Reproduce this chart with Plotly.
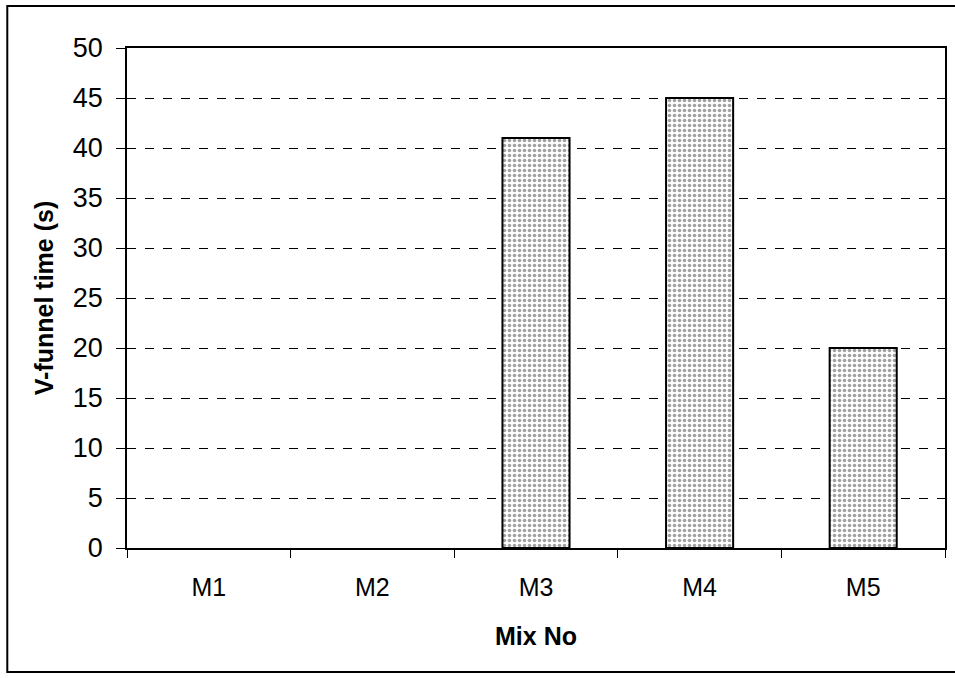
import plotly.graph_objects as go

mixes = ["M1", "M2", "M3", "M4", "M5"]
funnel_time = [None, None, 41, 45, 20]
y_ticks = [0, 5, 10, 15, 20, 25, 30, 35, 40, 45, 50]

W, H = 955, 678
ml, mr, mt, mb = 127, 8, 48, 130

fig = go.Figure()
fig.add_trace(go.Bar(
    x=mixes,
    y=funnel_time,
    marker=dict(
        color="white",
        line=dict(color="black", width=2),
        pattern=dict(shape=".", size=5, solidity=0.4,
                     fgcolor="#444444", bgcolor="white"),
    ),
    width=0.41,
))

ytick_font = dict(family="Liberation Sans, Arial, sans-serif", size=27, color="black")
xtick_font = dict(family="Liberation Sans, Arial, sans-serif", size=25, color="black")
title_font = dict(family="Liberation Sans, Arial, sans-serif", size=25, color="black")

fig.update_layout(
    width=W, height=H,
    margin=dict(l=ml, r=mr, t=mt, b=mb),
    paper_bgcolor="white",
    plot_bgcolor="white",
    showlegend=False,
    xaxis=dict(
        title=dict(text="<b>Mix No</b>", font=title_font, standoff=28),
        tickfont=xtick_font,
        ticklabelstandoff=16,
        showline=True, linecolor="black", linewidth=1.5, mirror=True,
        ticks="outside", ticklen=8, tickcolor="black",
        tickson="boundaries",
        showgrid=False,
    ),
    yaxis=dict(
        title=dict(text="<b>V-funnel time (s)</b>", font=title_font, standoff=12),
        tickfont=ytick_font,
        ticklabelstandoff=8,
        range=[0, 50],
        tickvals=y_ticks,
        showline=True, linecolor="black", linewidth=1.5, mirror=True,
        ticks="outside", ticklen=9, tickcolor="black",
        showgrid=True, gridcolor="black", gridwidth=1, griddash="dash",
        zeroline=False,
    ),
    shapes=[
        dict(type="rect", xref="paper", yref="paper",
             x0=(7 - ml) / (W - ml - mr), x1=(965 - ml) / (W - ml - mr),
             y0=-(672 - (H - mb)) / (H - mt - mb), y1=1 + (mt - 6) / (H - mt - mb),
             line=dict(color="black", width=2), fillcolor="rgba(0,0,0,0)",
             layer="below"),
    ],
)

fig.write_html("out.html")
